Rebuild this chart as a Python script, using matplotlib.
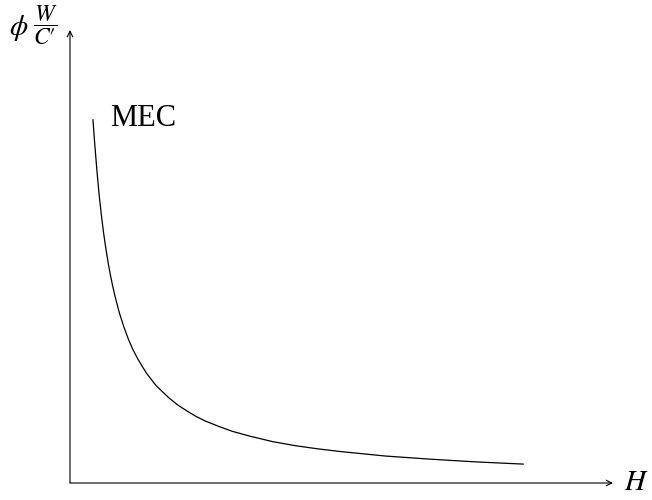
import matplotlib
matplotlib.use('Agg')
import matplotlib.pyplot as plt

# values (axis units arbitrary)
H_vals = [0.51, 0.55, 0.6, 0.65, 0.7, 0.75, 0.8, 0.85, 0.9, 0.95, 1.0,
          1.1, 1.2, 1.3, 1.4, 1.5, 1.6, 1.7, 1.8, 1.9, 2.0, 2.2, 2.4,
          2.6, 2.8, 3.0, 3.3, 3.6, 4.0, 4.5, 5.0, 5.5, 6.0, 7.0, 8.0,
          9.0, 10.07]
phi_vals = [8.07, 7.53, 6.92, 6.38, 5.93, 5.53, 5.19, 4.88, 4.61, 4.37, 4.15,
            3.77, 3.46, 3.19, 2.96, 2.77, 2.6, 2.44, 2.31, 2.18, 2.08, 1.89, 1.73,
            1.6, 1.48, 1.38, 1.26, 1.15, 1.04, 0.92, 0.83, 0.76, 0.7, 0.6, 0.53,
            0.47, 0.42]
curve_label = 'MEC'
x_label = r'$H$'
y_label_sym = r'$\phi$'
y_label_frac = '$\\dfrac{W}{C\u2032}$'

plt.rcParams['mathtext.fontset'] = 'stix'
plt.rcParams['font.family'] = ['Liberation Serif', 'DejaVu Serif']

fig = plt.figure(figsize=(6.52, 5.0), dpi=100)
ax = fig.add_axes([0, 0, 1, 1])
# 45 px per unit, origin at pixel (70, 483)
ax.set_xlim(-70 / 45, 582 / 45)
ax.set_ylim(-17 / 45, 483 / 45)
ax.axis('off')

# axes with arrows
arrow = dict(arrowstyle='->', lw=0.8, color='black', mutation_scale=10,
             shrinkA=0, shrinkB=0)
ax.annotate('', xy=(543 / 45, 0), xytext=(0, 0), arrowprops=arrow)
ax.annotate('', xy=(0, 453 / 45), xytext=(0, 0), arrowprops=arrow)

ax.plot(H_vals, phi_vals, color='black', lw=0.9, solid_joinstyle='round')

ax.text(566 / 45, 0, x_label, fontsize=21, ha='center', va='center')
ax.text(-51 / 45, 455 / 45, y_label_sym, fontsize=21, ha='center', va='center')
ax.text(-25 / 45, 458 / 45, y_label_frac, fontsize=17, ha='center', va='center')
ax.text(73 / 45, 364 / 45, curve_label, fontsize=22, ha='center', va='center')

fig.savefig('out.png', dpi=100)
